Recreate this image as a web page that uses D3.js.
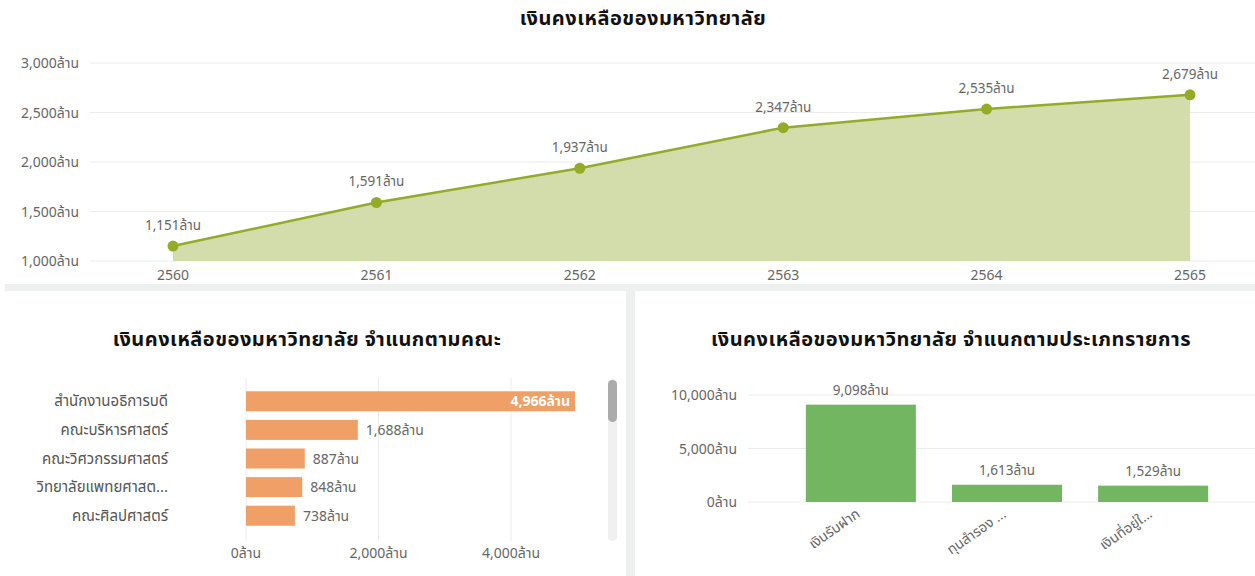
<!DOCTYPE html>
<html>
<head>
<meta charset="utf-8">
<script src="https://cdn.jsdelivr.net/npm/d3@7"></script>
<style>
  body { margin: 0; background: #fff; font-family: "Segoe UI", "Noto Sans", "Noto Sans Thai", sans-serif; }
  svg text { font-family: "Segoe UI", "Noto Sans", "Noto Sans Thai", sans-serif; }
</style>
</head>
<body>
<svg width="1255" height="576"></svg>
<script>
// top chart: balance by year
var years = ["2560", "2561", "2562", "2563", "2564", "2565"];
var balance = [1151, 1591, 1937, 2347, 2535, 2679];
var balanceTicks = [1000, 1500, 2000, 2500, 3000];

// bottom-left: balance by faculty
var faculties = ["สำนักงานอธิการบดี", "คณะบริหารศาสตร์", "คณะวิศวกรรมศาสตร์", "วิทยาลัยแพทยศาสต...", "คณะศิลปศาสตร์"];
var facultyValues = [4966, 1688, 887, 848, 738];
var facultyTicks = [0, 2000, 4000];

// bottom-right: balance by item type
var itemTypes = ["เงินรับฝาก", "ทุนสำรอง ...", "เงินที่อยู่ใ..."];
var itemValues = [9098, 1613, 1529];
var itemTicks = [0, 5000, 10000];

var fmt = d3.format(",");
var unit = "ล้าน";
var svg = d3.select("svg");

function title(x, y, txt) {
  svg.append("text")
    .attr("x", x).attr("y", y)
    .attr("text-anchor", "middle")
    .style("font-size", "20px").style("font-weight", "bold")
    .style("letter-spacing", "0.5px")
    .attr("fill", "#111")
    .text(txt);
}

// panel separators
svg.append("rect").attr("x", 5).attr("y", 284).attr("width", 1250).attr("height", 7).attr("fill", "#eeefef");
svg.append("rect").attr("x", 626).attr("y", 291).attr("width", 9).attr("height", 285).attr("fill", "#eeefef");

// ---------- top line/area chart ----------
var x1 = d3.scalePoint().domain(years).range([173, 1190]);
var y1 = d3.scaleLinear().domain([1000, 3000]).range([261, 63]);

title(643, 25, "เงินคงเหลือของมหาวิทยาลัย");

var g1 = svg.append("g");
g1.selectAll(".grid1").data(balanceTicks).enter().append("line")
  .attr("x1", 90).attr("x2", 1255)
  .attr("y1", d => y1(d)).attr("y2", d => y1(d))
  .attr("stroke", "#ececec").attr("stroke-width", 1);

g1.selectAll(".ylab1").data(balanceTicks).enter().append("text")
  .attr("x", 79).attr("y", d => y1(d) + 5)
  .attr("text-anchor", "end")
  .style("font-size", "14px").attr("fill", "#666")
  .text(d => fmt(d) + unit);

var pts = years.map((yr, i) => ({ year: yr, value: balance[i] }));

var area = d3.area()
  .x(d => x1(d.year))
  .y0(y1(1000))
  .y1(d => y1(d.value));
g1.append("path").datum(pts).attr("d", area).attr("fill", "#d3ddac");

var line = d3.line().x(d => x1(d.year)).y(d => y1(d.value));
g1.append("path").datum(pts).attr("d", line)
  .attr("fill", "none").attr("stroke", "#94ab28").attr("stroke-width", 2.5);

g1.selectAll(".dot").data(pts).enter().append("circle")
  .attr("cx", d => x1(d.year)).attr("cy", d => y1(d.value)).attr("r", 5.5)
  .attr("fill", "#94ab28");

g1.selectAll(".vlab").data(pts).enter().append("text")
  .attr("x", d => x1(d.year)).attr("y", d => y1(d.value) - 16)
  .attr("text-anchor", "middle")
  .style("font-size", "13.5px").attr("fill", "#666")
  .text(d => fmt(d.value) + unit);

g1.selectAll(".xlab1").data(years).enter().append("text")
  .attr("x", d => x1(d)).attr("y", 280)
  .attr("text-anchor", "middle")
  .style("font-size", "14px").attr("fill", "#666")
  .text(d => d);

// ---------- bottom-left horizontal bars ----------
title(307, 346, "เงินคงเหลือของมหาวิทยาลัย จำแนกตามคณะ");

var x2 = d3.scaleLinear().domain([0, 4000]).range([246, 511]);
var y2 = d3.scaleBand().domain(faculties).range([387, 530]).paddingInner(0.3).paddingOuter(0.15);

var g2 = svg.append("g");
g2.selectAll(".grid2").data(facultyTicks).enter().append("line")
  .attr("x1", d => x2(d)).attr("x2", d => x2(d))
  .attr("y1", 378).attr("y2", 541)
  .attr("stroke", "#ececec");

g2.selectAll(".bar2").data(faculties).enter().append("rect")
  .attr("x", x2(0))
  .attr("y", d => y2(d))
  .attr("height", y2.bandwidth())
  .attr("width", (d, i) => x2(facultyValues[i]) - x2(0))
  .attr("fill", "#f0a066");

g2.selectAll(".cat2").data(faculties).enter().append("text")
  .attr("x", 168).attr("y", d => y2(d) + y2.bandwidth() / 2 + 5)
  .attr("text-anchor", "end")
  .style("font-size", "15px").attr("fill", "#555")
  .text(d => d);

g2.selectAll(".val2").data(faculties).enter().append("text")
  .attr("x", (d, i) => i === 0 ? x2(facultyValues[i]) - 5 : x2(facultyValues[i]) + 8)
  .attr("y", d => y2(d) + y2.bandwidth() / 2 + 5)
  .attr("text-anchor", (d, i) => i === 0 ? "end" : "start")
  .style("font-size", "14px")
  .style("font-weight", (d, i) => i === 0 ? "bold" : "normal")
  .attr("fill", (d, i) => i === 0 ? "#fff" : "#666")
  .text((d, i) => fmt(facultyValues[i]) + unit);

g2.selectAll(".xlab2").data(facultyTicks).enter().append("text")
  .attr("x", d => x2(d)).attr("y", 558)
  .attr("text-anchor", "middle")
  .style("font-size", "14px").attr("fill", "#666")
  .text(d => fmt(d) + unit);

// scrollbar
svg.append("rect").attr("x", 608).attr("y", 379).attr("width", 9).attr("height", 162).attr("rx", 4.5).attr("fill", "#f0f0f0");
svg.append("rect").attr("x", 608).attr("y", 380).attr("width", 9).attr("height", 42).attr("rx", 4.5).attr("fill", "#ababab");

// ---------- bottom-right vertical bars ----------
title(951, 346, "เงินคงเหลือของมหาวิทยาลัย จำแนกตามประเภทรายการ");

var x3 = d3.scaleBand().domain(itemTypes).range([762, 1252]).paddingInner(0.247).paddingOuter(0.3);
var y3 = d3.scaleLinear().domain([0, 10000]).range([502, 395]);

var g3 = svg.append("g");
g3.selectAll(".grid3").data(itemTicks).enter().append("line")
  .attr("x1", 748).attr("x2", 1255)
  .attr("y1", d => y3(d)).attr("y2", d => y3(d))
  .attr("stroke", "#ececec");

g3.selectAll(".ylab3").data(itemTicks).enter().append("text")
  .attr("x", 737).attr("y", d => y3(d) + 5)
  .attr("text-anchor", "end")
  .style("font-size", "14px").attr("fill", "#666")
  .text(d => fmt(d) + unit);

g3.selectAll(".bar3").data(itemTypes).enter().append("rect")
  .attr("x", d => x3(d))
  .attr("width", x3.bandwidth())
  .attr("y", (d, i) => y3(itemValues[i]))
  .attr("height", (d, i) => y3(0) - y3(itemValues[i]))
  .attr("fill", "#73b661");

g3.selectAll(".val3").data(itemTypes).enter().append("text")
  .attr("x", d => x3(d) + x3.bandwidth() / 2)
  .attr("y", (d, i) => y3(itemValues[i]) - 10)
  .attr("text-anchor", "middle")
  .style("font-size", "13.5px").attr("fill", "#666")
  .text((d, i) => fmt(itemValues[i]) + unit);

g3.selectAll(".xlab3").data(itemTypes).enter().append("text")
  .attr("transform", d => "translate(" + (x3(d) + x3.bandwidth() / 2) + ",516) rotate(-35)")
  .attr("text-anchor", "end")
  .style("font-size", "14px").attr("fill", "#666")
  .text(d => d);
</script>
</body>
</html>
